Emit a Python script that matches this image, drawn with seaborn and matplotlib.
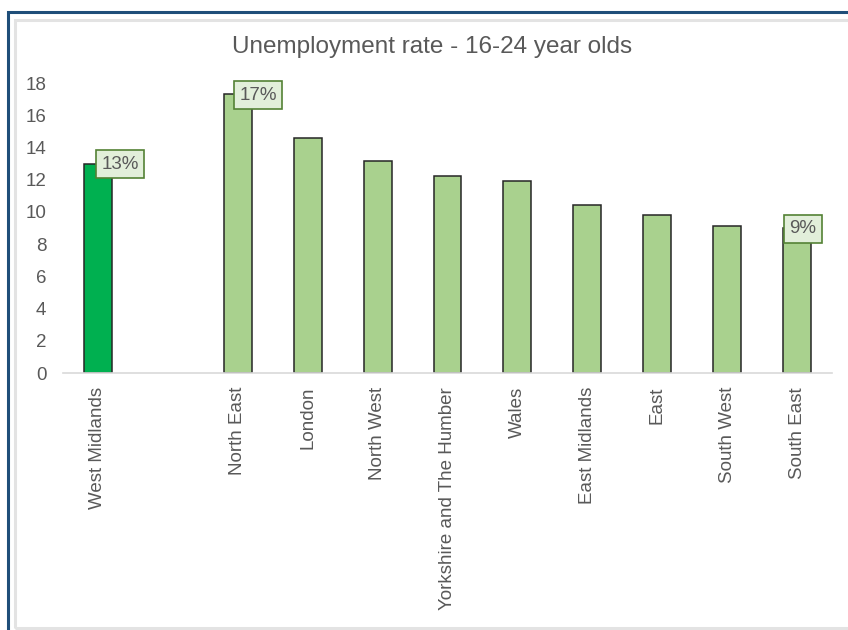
import numpy as np
import pandas as pd
import matplotlib
matplotlib.use("Agg")
import matplotlib.pyplot as plt
import seaborn as sns
from matplotlib.patches import Rectangle

# ---- data ----
regions = ["West Midlands", " ", "North East", "London", "North West",
           "Yorkshire and The Humber", "Wales", "East Midlands", "East",
           "South West", "South East"]
rates = [13.0, np.nan, 17.3, 14.6, 13.15, 12.2, 11.9, 10.45, 9.8, 9.1, 9.0]
bar_colors = ["#00B050", "#FFFFFF", "#A9D18E", "#A9D18E", "#A9D18E", "#A9D18E",
              "#A9D18E", "#A9D18E", "#A9D18E", "#A9D18E", "#A9D18E"]
labelled = {"West Midlands": "13%", "North East": "17%", "South East": "9%"}
label_dx = {"West Midlands": 0.0, "North East": -0.03, "South East": -0.16}
title = "Unemployment rate - 16-24 year olds"
yticks = [0, 2, 4, 6, 8, 10, 12, 14, 16, 18]

df = pd.DataFrame({"region": regions, "rate": rates})

sns.set_theme(style="white")
plt.rcParams["font.family"] = ["Liberation Sans", "DejaVu Sans"]
text_col = "#595959"

fig = plt.figure(figsize=(8.48, 6.30), dpi=100)
ax = fig.add_axes([63 / 848, 1 - 373 / 630, (832 - 63) / 848, (373 - 83) / 630])

sns.barplot(data=df, x="region", y="rate", hue="region", order=regions,
            hue_order=regions, palette=dict(zip(regions, bar_colors)),
            legend=False, width=0.4, edgecolor="#262626", linewidth=1.1,
            saturation=1, ax=ax, errorbar=None)

ax.set_ylim(0, 18)
ax.set_xlim(-0.5, len(regions) - 0.5)
ax.set_yticks(yticks)
ax.set_yticklabels([str(t) for t in yticks])
ax.set_xlabel("")
ax.set_ylabel("")
ax.tick_params(axis="y", length=0, pad=12, labelsize=13.5, labelcolor=text_col)
ax.tick_params(axis="x", length=0, pad=10, labelsize=13.5, labelcolor=text_col,
               labelrotation=90)
for lbl in ax.get_xticklabels():
    lbl.set_va("top")
for s in ["left", "right", "top"]:
    ax.spines[s].set_visible(False)
ax.spines["bottom"].set_color("#D9D9D9")
ax.spines["bottom"].set_linewidth(1.2)
ax.grid(False)

# data labels
for i, (r, v) in enumerate(zip(regions, rates)):
    if r in labelled:
        ax.text(i + 0.05 + label_dx[r], v - 0.05, labelled[r], ha="left",
                va="center", fontsize=13.5, color=text_col, zorder=5,
                bbox=dict(boxstyle="square,pad=0.3", fc="#E2EFDA",
                          ec="#548235", lw=1.2))

fig.text(432 / 848, 1 - 47 / 630, title, ha="center", va="center",
         fontsize=17.5, color=text_col)

# frames
fig.patches.append(Rectangle((8 / 848, -0.1), 2, 1 - 12 / 630 + 0.1,
                             transform=fig.transFigure, fill=False,
                             ec="#1F4E79", lw=2.2))
fig.patches.append(Rectangle((15 / 848, 1 - 628 / 630), 2, (628 - 20) / 630,
                             transform=fig.transFigure, fill=False,
                             ec="#E3E3E3", lw=2.2))

fig.savefig("out.png", dpi=100)
